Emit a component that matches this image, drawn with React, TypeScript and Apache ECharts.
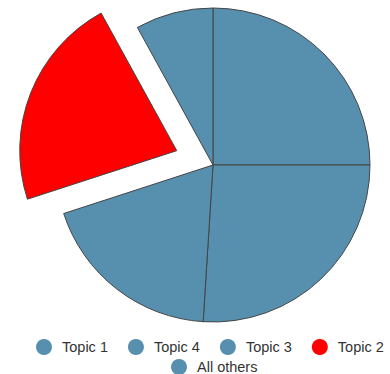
import React, { useEffect, useRef } from "react";
import * as echarts from "echarts";

const categories = ["Topic 1", "Topic 4", "Topic 3", "Topic 2", "All others"];
const values = [25, 26, 19, 22, 8];
const highlighted = "Topic 2";

const BLUE = "#5790ae";
const RED = "#ff0000";

export default function App() {
  const ref = useRef<HTMLDivElement>(null);
  useEffect(() => {
    if (!ref.current) return;
    const chart = echarts.init(ref.current, undefined, { renderer: "svg" });
    const data = categories.map((name, i) => {
      const isHi = name === highlighted;
      const color = isHi ? RED : BLUE;
      return {
        name,
        value: values[i],
        selected: isHi,
        itemStyle: { color, borderColor: "#444", borderWidth: 1 },
        select: { itemStyle: { color, borderColor: "#444", borderWidth: 1 } },
      };
    });
    const legendCommon = {
      orient: "horizontal" as const,
      icon: "circle",
      itemWidth: 16,
      itemHeight: 16,
      itemGap: 20,
      padding: 0,
      selectedMode: false,
      itemStyle: { borderWidth: 0 },
      textStyle: {
        fontFamily: "Liberation Sans, Arial, sans-serif",
        fontSize: 14.5,
        color: "#333",
        padding: [0, 0, 0, 5],
      },
    };
    chart.setOption({
      animation: false,
      legend: [
        { ...legendCommon, left: 36, top: 339, data: categories.slice(0, 4) },
        { ...legendCommon, left: 171, top: 359, data: categories.slice(4) },
      ],
      series: [
        {
          type: "pie",
          center: [213, 165],
          radius: 157,
          startAngle: 90,
          clockwise: true,
          selectedMode: "single",
          selectedOffset: 39,
          label: { show: false },
          labelLine: { show: false },
          emphasis: { disabled: true },
          data,
        },
      ],
    });
    return () => chart.dispose();
  }, []);
  return <div ref={ref} style={{ width: 390, height: 374, position: "absolute", left: 0, top: 0 }} />;
}
